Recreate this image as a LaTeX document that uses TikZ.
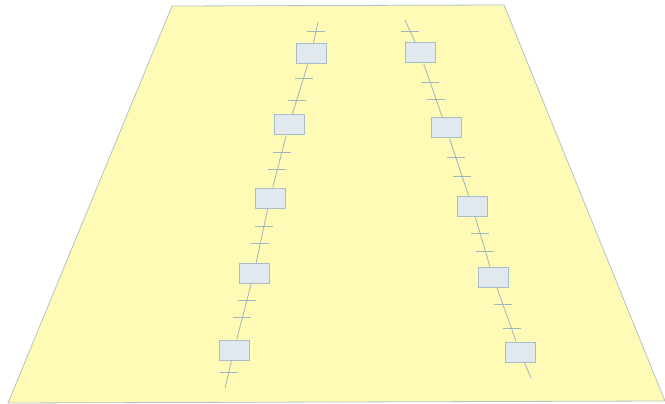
\documentclass[tikz,border=0pt]{standalone}
\usetikzlibrary{decorations.markings}
\definecolor{plane}{RGB}{255,250,182}
\definecolor{planeedge}{RGB}{176,196,198}
\definecolor{boxfill}{RGB}{225,232,238}
\definecolor{boxedge}{RGB}{166,189,206}
\definecolor{trackline}{RGB}{158,183,190}
\tikzset{
    %Define style for the small boxes on a track
    stop/.style={
           rectangle,
           draw=boxedge, line width=1pt,
           fill=boxfill,
           minimum width=30pt,
           minimum height=20pt,
           inner sep=0pt},
    % Define track line style
    track/.style={
           draw=trackline,
           line width=0.8pt},
    % horizontal tick on a track
    tick at/.style={
           postaction={decorate,
           decoration={markings,
           mark=at position #1 with {\pgftransformresetnontranslations
                \draw[trackline, line width=0.8pt] (-9pt,0) -- (9pt,0);}}}}
}
\begin{document}
\begin{tikzpicture}[x=1pt,y=-1pt]
\useasboundingbox (0,0) rectangle (665,404);
\draw[planeedge, line width=0.8pt, fill=plane] (172,6) -- (504,5) -- (665,401) -- (8,403) -- cycle;
% left track
\coordinate (lt) at (318,22);
\coordinate (lb) at (225,388);
\foreach \n/\x/\y in {1/311/54, 2/289/125, 3/270/198, 4/254/273, 5/234/350}
    \node[stop] (l\n) at (\x,\y) {};
% right track
\coordinate (rt) at (405,20);
\coordinate (rb) at (531,378);
\foreach \n/\x/\y in {1/420/53, 2/446/128, 3/472/206, 4/493/277, 5/520/352}
    \node[stop] (r\n) at (\x,\y) {};
\path[track]
	(lt) edge[tick at=.45] (l1)
	(l1) edge[tick at=.27, tick at=.71] (l2)
	(l2) edge[tick at=.32, tick at=.66] (l3)
	(l3) edge[tick at=.33, tick at=.65] (l4)
	(l4) edge[tick at=.30, tick at=.61] (l5)
	(l5) edge[tick at=.43] (lb);
\path[track]
	(rt) edge[tick at=.52] (r1)
	(r1) edge[tick at=.35, tick at=.67] (r2)
	(r2) edge[tick at=.34, tick at=.67] (r3)
	(r3) edge[tick at=.33, tick at=.69] (r4)
	(r4) edge[tick at=.31, tick at=.76] (r5)
	(r5) edge (rb);
\end{tikzpicture}
\end{document}
